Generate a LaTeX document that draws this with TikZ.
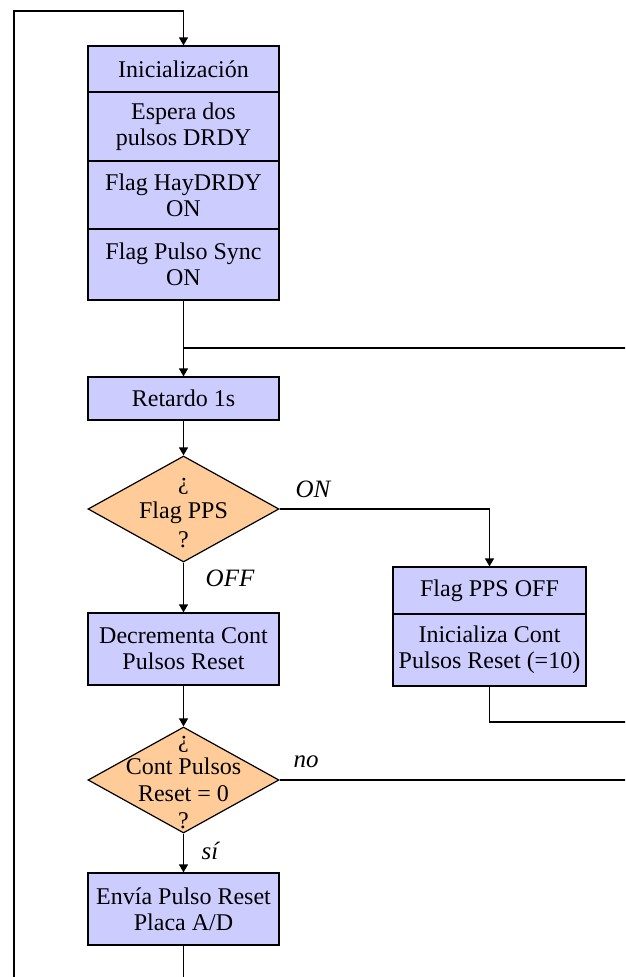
\documentclass[tikz,border=0pt]{standalone}
\usepackage{fontspec}
\setmainfont{Liberation Serif}
\usetikzlibrary{shapes.geometric,arrows.meta}
\definecolor{boxfill}{RGB}{204,204,255}
\definecolor{diafill}{RGB}{255,204,153}
\begin{document}
\begin{tikzpicture}[x=1pt,y=-1pt,
 proc/.style={draw=black, line width=1.2pt, fill=boxfill, minimum width=191pt, inner sep=0pt, align=center, font=\fontsize{24}{26}\selectfont},
 dia/.style={draw=black, line width=1.2pt, fill=diafill, diamond, minimum width=191pt, minimum height=106pt, inner sep=0pt},
 diatext/.style={align=center, inner sep=0pt},
 conn/.style={line width=1.2pt},
 arr/.style={conn, -{Triangle[length=8pt,width=9pt]}},
 lbl/.style={font=\fontsize{25}{27}\selectfont\itshape, inner sep=0pt}]
\useasboundingbox (0,0) rectangle (625,977);
\clip (0,0) rectangle (625,977);
\fill[white] (0,0) rectangle (625,977);

\node[proc, minimum height=46pt] (ini) at (183.5,69) {Inicialización};
\node[proc, minimum height=69pt] (esp) at (183.5,126.5) {Espera dos\\pulsos DRDY};
\node[proc, minimum height=68pt] (hay) at (183.5,195) {Flag HayDRDY\\ON};
\node[proc, minimum height=71pt] (sync) at (183.5,264.5) {Flag Pulso Sync\\ON};
\node[proc, minimum height=43pt] (ret) at (183.5,398.5) {Retardo 1s};
\node[dia] (d1) at (183.5,509) {};
\node[diatext, font=\fontsize{24}{29}\selectfont] (d1t) at (183.5,513) {¿\\Flag PPS\\?};
\node[proc, minimum height=72pt] (dec) at (183.5,649) {Decrementa Cont\\Pulsos Reset};
\node[dia] (d2) at (183.5,780) {};
\node[diatext, font=\fontsize{24}{27}\selectfont] (d2t) at (183.5,783) {¿\\Cont Pulsos\\Reset = 0\\?};
\node[proc, minimum height=72pt] (env) at (183.5,909) {Envía Pulso Reset\\Placa A/D};
\node[proc, minimum width=193pt, minimum height=47pt] (ppo) at (489.5,590.5) {Flag PPS OFF};
\node[proc, minimum width=193pt, minimum height=72pt] (ini2) at (489.5,650) {Inicializa Cont\\Pulsos Reset (=10)};

\coordinate (tl) at (14,11);
\coordinate (bl) at (14,990);
\coordinate (jn) at (183.5,348);
\coordinate (r1) at (640,348);
\coordinate (r2) at (640,722);
\coordinate (r3) at (640,780);

\draw[arr] (env.south) -- (env.south |- bl) -- (bl) -- (tl) -- (ini.north |- tl) -- (ini.north);
\draw[arr] (sync.south) -- (ret.north);
\draw[conn] (jn) -- (r1);
\draw[arr] (ret.south) -- (d1.north);
\draw[arr] (d1.south) -- (dec.north);
\draw[arr] (d1.east) -- (d1.east -| ppo.north) -- (ppo.north);
\draw[conn] (ini2.south) -- (ini2.south |- r2) -- (r2);
\draw[arr] (dec.south) -- (d2.north);
\draw[arr] (d2.south) -- (env.north);
\draw[conn] (d2.east) -- (r3) -- (r1);

\node[lbl] (on) at (313,489) {ON};
\node[lbl] (off) at (230,578) {OFF};
\node[lbl] (no) at (306,762) {no};
\node[lbl] (si) at (210,851) {sí};
\end{tikzpicture}
\end{document}
